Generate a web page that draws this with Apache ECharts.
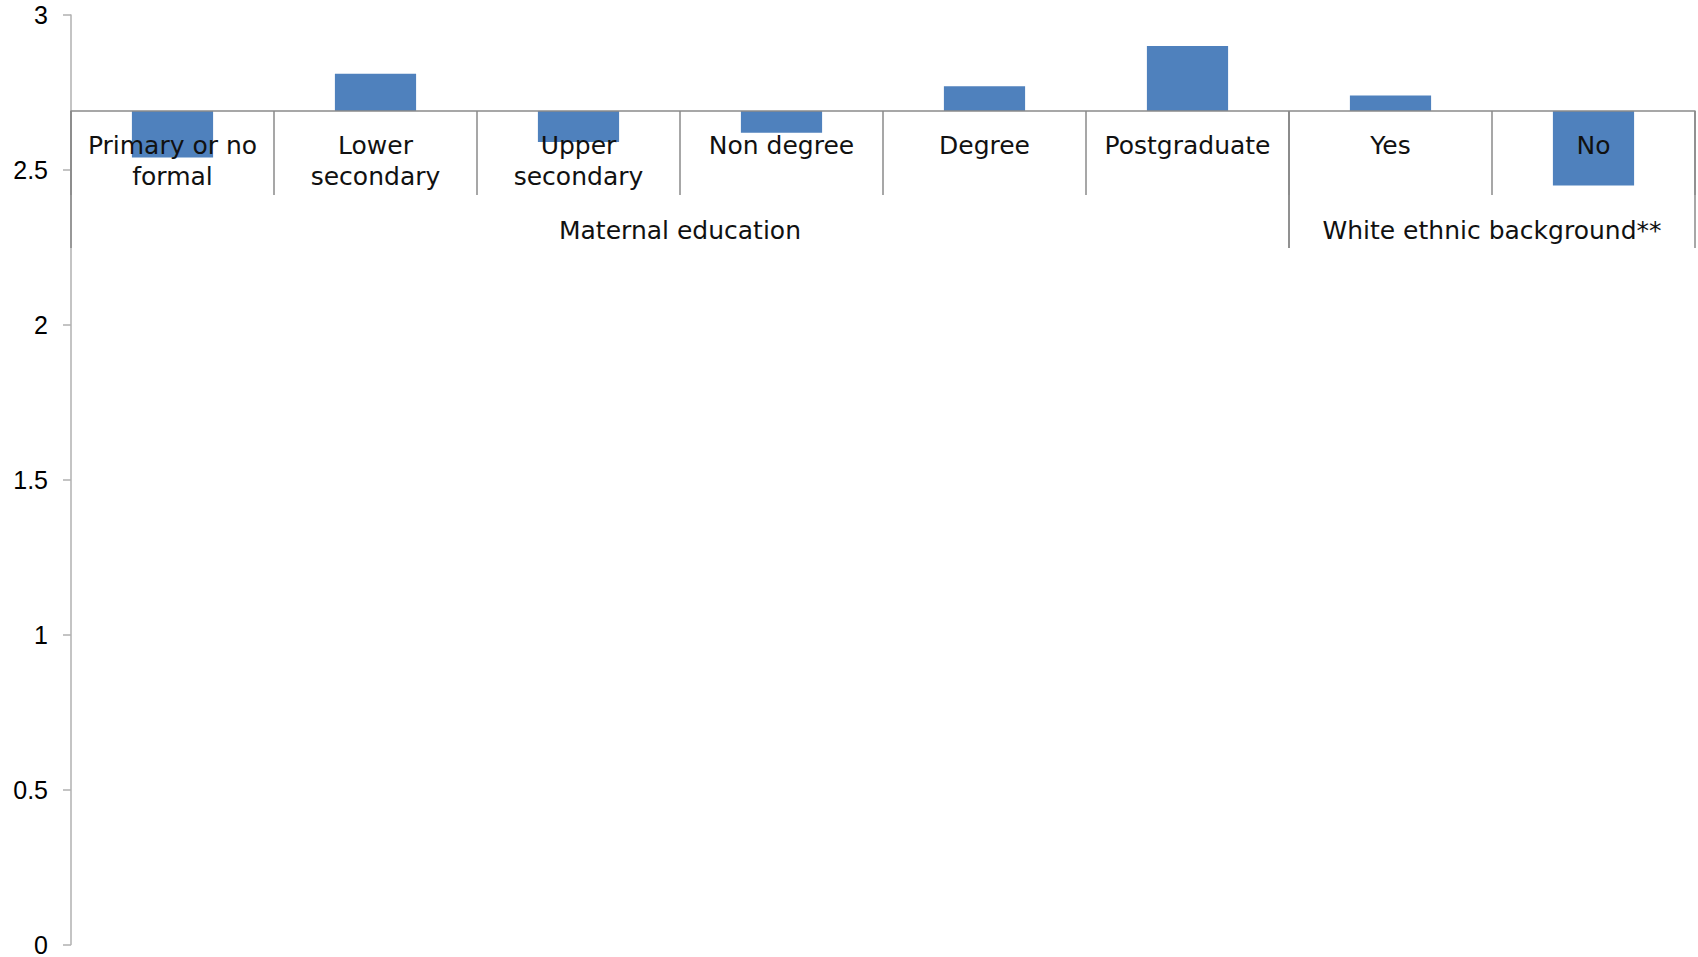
<!DOCTYPE html>
<html>
<head>
<meta charset="utf-8">
<script src="https://cdn.jsdelivr.net/npm/echarts@6/dist/echarts.min.js"></script>
<style>
  html, body { margin: 0; padding: 0; background: #ffffff; }
  #chart { width: 1698px; height: 957px; }
</style>
</head>
<body>
<div id="chart"></div>
<script>
// Category tick labels along the crossing axis
const categories = ['Primary or no\nformal', 'Lower\nsecondary', 'Upper\nsecondary', 'Non degree', 'Degree', 'Postgraduate', 'Yes', 'No'];
// Mean score per category
const values = [2.54, 2.81, 2.59, 2.62, 2.77, 2.90, 2.74, 2.45];
// Value where the category axis crosses the value axis (bars grow from here)
const baseline = 2.69;
// Grouping of categories
const groupNames = ['Maternal education', 'White ethnic background**'];
const groupStart = [0, 6];
const groupEnd = [5, 7];
// Value axis ticks
const yTicks = { min: 0, max: 3, interval: 0.5 };

const LABEL_FONT = '"DejaVu Sans", sans-serif';
const LABEL_SIZE = 25;
const AXIS_GRAY = '#8a8a8a';
const BAR_BLUE = '#4f81bd';
const GRID = { left: 71, right: 3, top: 15, bottom: 12 };

const chart = echarts.init(document.getElementById('chart'), null, { renderer: 'svg' });

// crossY: pixel row of the baseline on the value axis; the category axis
// lives in a second grid whose bottom edge sits on that row.
function buildOption(crossY) {
  return {
    animation: false,
    backgroundColor: '#ffffff',
    grid: [
      { left: GRID.left, right: GRID.right, top: GRID.top, bottom: GRID.bottom, containLabel: false },
      { left: GRID.left, right: GRID.right, top: GRID.top, height: Math.max(1, crossY - GRID.top), containLabel: false }
    ],
    xAxis: [
      {
        // Hidden category axis that positions the bars in the main grid
        type: 'category',
        gridIndex: 0,
        data: categories,
        show: false
      },
      {
        type: 'category',
        gridIndex: 1,
        data: categories,
        position: 'bottom',
        z: 5,
        boundaryGap: true,
        axisLine: { show: true, lineStyle: { color: AXIS_GRAY, width: 1.5 } },
        axisTick: { show: true, length: 84, lineStyle: { color: AXIS_GRAY, width: 1.5 } },
        axisLabel: {
          margin: 19,
          interval: 0,
          color: '#111111',
          fontFamily: LABEL_FONT,
          fontSize: LABEL_SIZE,
          lineHeight: 31
        },
        splitLine: { show: false }
      }
    ],
    yAxis: [
      {
        type: 'value',
        gridIndex: 0,
        min: yTicks.min,
        max: yTicks.max,
        interval: yTicks.interval,
        axisLine: { show: true, lineStyle: { color: '#b0b0b0', width: 1.5 } },
        axisTick: { show: true, length: 8, lineStyle: { color: '#b0b0b0', width: 1.5 } },
        axisLabel: {
          margin: 23,
          color: '#000000',
          fontFamily: '"Liberation Sans", Arial, sans-serif',
          fontSize: 25
        },
        splitLine: { show: false }
      },
      {
        type: 'value',
        gridIndex: 1,
        show: false
      }
    ],
    series: [
      {
        // Bars drawn from the crossing value up or down to each category value
        type: 'custom',
        xAxisIndex: 0,
        yAxisIndex: 0,
        z: 2,
        encode: { x: 0, y: 1 },
        data: values.map((v, i) => [i, v]),
        renderItem: function (params, api) {
          const i = api.value(0);
          const p0 = api.coord([i, baseline]);
          const p1 = api.coord([i, api.value(1)]);
          const w = api.size([1, 0])[0] * 0.4;
          return {
            type: 'rect',
            shape: {
              x: p0[0] - w / 2,
              y: Math.min(p0[1], p1[1]),
              width: w,
              height: Math.abs(p1[1] - p0[1])
            },
            style: { fill: BAR_BLUE }
          };
        }
      },
      {
        // Group brackets and names under the category labels
        type: 'custom',
        xAxisIndex: 0,
        yAxisIndex: 0,
        z: 6,
        silent: true,
        encode: { x: 0 },
        data: groupStart.map((s, k) => [s, groupEnd[k]]),
        renderItem: function (params, api) {
          const band = api.size([1, 0])[0];
          const a = api.coord([api.value(0), baseline]);
          const b = api.coord([api.value(1), baseline]);
          const left = a[0] - band / 2;
          const right = b[0] + band / 2;
          const y0 = a[1];
          const lineStyle = { stroke: AXIS_GRAY, lineWidth: 1.5 };
          return {
            type: 'group',
            children: [
              { type: 'line', shape: { x1: left, y1: y0, x2: left, y2: y0 + 137 }, style: lineStyle },
              { type: 'line', shape: { x1: right, y1: y0, x2: right, y2: y0 + 137 }, style: lineStyle },
              {
                type: 'text',
                style: {
                  x: (left + right) / 2,
                  y: y0 + 119,
                  text: groupNames[params.dataIndex],
                  align: 'center',
                  verticalAlign: 'middle',
                  fill: '#111111',
                  font: LABEL_SIZE + 'px ' + LABEL_FONT
                }
              }
            ]
          };
        }
      }
    ]
  };
}

chart.setOption(buildOption(100));
const crossY = chart.convertToPixel({ yAxisIndex: 0 }, baseline);
chart.setOption(buildOption(crossY));
</script>
</body>
</html>
